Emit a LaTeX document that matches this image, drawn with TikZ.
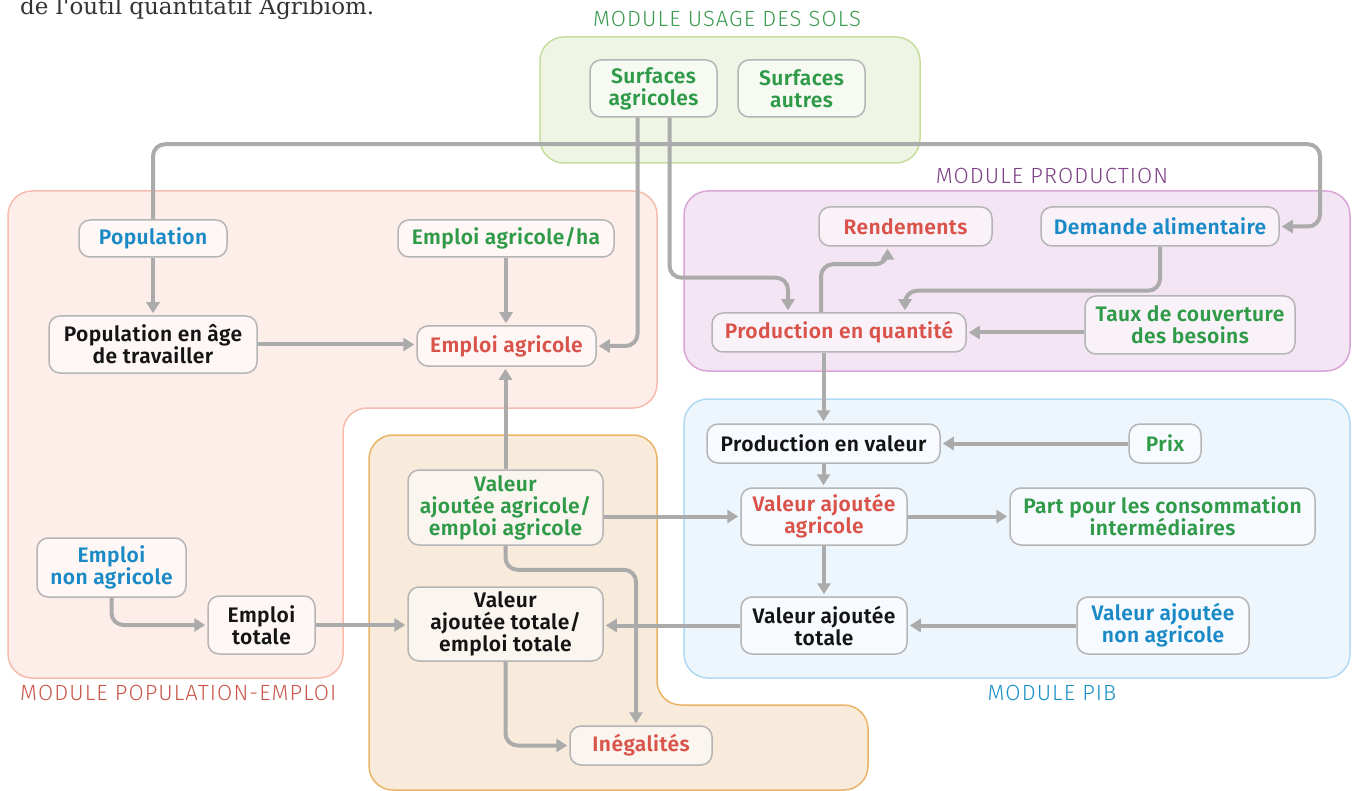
\documentclass[tikz,border=0pt]{standalone}
\usepackage{fontspec}
\setmainfont{Fira Sans}[BoldFont={Fira Sans SemiBold}, LetterSpace=2]
\newfontfamily\lightfont{Fira Sans Light}[LetterSpace=5]
\newfontfamily\seriffont{DejaVu Serif}
\usetikzlibrary{arrows.meta,calc}
\definecolor{tgreen}{HTML}{2F9A48}
\definecolor{tred}{HTML}{D9534A}
\definecolor{tblue}{HTML}{1A8AC6}
\definecolor{tblack}{HTML}{141414}
\definecolor{linegray}{HTML}{ABABAB}
\definecolor{boxgray}{HTML}{B5B5B5}
\definecolor{textdark}{HTML}{333333}
\definecolor{gfill}{HTML}{EEF5E5}\definecolor{gdraw}{HTML}{C5DE9C}
\definecolor{sfill}{HTML}{FDEEEA}\definecolor{sdraw}{HTML}{F6BCAE}
\definecolor{pfill}{HTML}{F3E5F3}\definecolor{pdraw}{HTML}{D9A5D6}
\definecolor{bfill}{HTML}{EEF6FD}\definecolor{bdraw}{HTML}{B0DAF3}
\definecolor{ofill}{HTML}{F8EBDC}\definecolor{odraw}{HTML}{EAB466}
\definecolor{titgreen}{HTML}{3A9A50}
\definecolor{titred}{HTML}{C8574A}
\definecolor{titpurple}{HTML}{7D3F86}
\definecolor{titblue}{HTML}{1B8FC4}
\tikzset{
  box/.style={draw=boxgray, line width=1.5pt, rounded corners=11pt, fill=white,
    fill opacity=0.55, text opacity=1, align=center, inner sep=0pt,
    font=\bfseries\fontsize{21}{22}\selectfont},
  conn/.style={draw=linegray, line width=4pt, rounded corners=12pt,
    -{Triangle[length=11pt,width=13pt]}, shorten >=2pt},
  modtitle/.style={font=\lightfont\fontsize{22}{24}\selectfont, inner sep=0pt},
  module/.style={line width=1.5pt, rounded corners=24pt}
}
\begin{document}
\begin{tikzpicture}[x=1pt,y=-1pt]
\useasboundingbox (0,0) rectangle (1354,791);
% caption fragment
\node[anchor=base west, font=\seriffont\fontsize{23}{26}\selectfont, text=textdark, inner sep=0pt] (cap) at (20,15) {de l'outil quantitatif Agribiom.};
% modules
\draw[module, fill=sfill, draw=sdraw] (8,191) -- (657,191) -- (657,408) -- (343,408) -- (343,678) -- (8,678) -- cycle;
\draw[module, fill=ofill, draw=odraw] (369,435) -- (657,435) -- (657,705) -- (868,705) -- (868,790) -- (369,790) -- cycle;
\draw[module, fill=gfill, draw=gdraw] (540,37) rectangle (920,163);
\draw[module, fill=pfill, draw=pdraw] (684,191) rectangle (1350,371);
\draw[module, fill=bfill, draw=bdraw] (684,399) rectangle (1350,678);
\node[modtitle, text=titgreen] (t1) at (727,19) {MODULE USAGE DES SOLS};
\node[modtitle, text=titpurple] (t2) at (1052,176) {MODULE PRODUCTION};
\node[modtitle, text=titred, anchor=west] (t3) at (20,693) {MODULE POPULATION-EMPLOI};
\node[modtitle, text=titblue] (t4) at (1052,693) {MODULE PIB};
% nodes
\node[box, text=tgreen, minimum width=127, minimum height=57] (sagri) at (653.5,88.5) {Surfaces\\agricoles};
\node[box, text=tgreen, minimum width=127, minimum height=57] (saut) at (801.5,88.5) {Surfaces\\autres};
\node[box, text=tblue, minimum width=148, minimum height=37] (pop) at (153,238.5) {Population};
\node[box, text=tgreen, minimum width=216, minimum height=37] (eagha) at (506,238.5) {Emploi agricole/ha};
\node[box, text=tblack, minimum width=208, minimum height=57] (popage) at (153,344.5) {Population en âge\\de travailler};
\node[box, text=tred, minimum width=179, minimum height=40] (eagri) at (506.5,346) {Emploi agricole};
\node[box, text=tblue, minimum width=149, minimum height=59] (enonag) at (111.5,567.5) {Emploi\\non agricole};
\node[box, text=tblack, minimum width=107, minimum height=58] (etot) at (261.5,625) {Emploi\\totale};
\node[box, text=tgreen, minimum width=195, minimum height=75] (vaaea) at (505.5,507.5) {Valeur\\ajoutée agricole/\\emploi agricole};
\node[box, text=tblack, minimum width=195, minimum height=74] (vatet) at (505.5,624) {Valeur\\ajoutée totale/\\emploi totale};
\node[box, text=tred, minimum width=142, minimum height=39] (ineg) at (641,745.5) {Inégalités};
\node[box, text=tred, minimum width=173, minimum height=39] (rend) at (905.5,226.5) {Rendements};
\node[box, text=tblue, minimum width=238, minimum height=39] (dem) at (1160,226.5) {Demande alimentaire};
\node[box, text=tred, minimum width=254, minimum height=39] (prodq) at (839,332.5) {Production en quantité};
\node[box, text=tgreen, minimum width=210, minimum height=58] (taux) at (1190,325) {Taux de couverture\\des besoins};
\node[box, text=tblack, minimum width=233, minimum height=39] (pval) at (823.5,443.5) {Production en valeur};
\node[box, text=tgreen, minimum width=72, minimum height=39] (prix) at (1165,443.5) {Prix};
\node[box, text=tred, minimum width=166, minimum height=57] (vaa) at (824,516.5) {Valeur ajoutée\\agricole};
\node[box, text=tgreen, minimum width=305, minimum height=57] (part) at (1162.5,516.5) {Part pour les consommation\\intermédiaires};
\node[box, text=tblack, minimum width=166, minimum height=57] (vat) at (824,625.5) {Valeur ajoutée\\totale};
\node[box, text=tblue, minimum width=172, minimum height=57] (vana) at (1163,625.5) {Valeur ajoutée\\non agricole};
\coordinate (loopR) at (1320,0);
% connectors
\draw[conn] (pop.north) -- ++(0,-75) -| (dem.east -| loopR) -- (dem.east);
\draw[conn] ([xshift=-16pt]sagri.south) |- (eagri.east);
\draw[conn] ([xshift=16pt]sagri.south) -- ++(0,160) -| ([xshift=-51pt]prodq.north);
\draw[conn] (pop.south) -- (popage.north);
\draw[conn] (eagha.south) -- (eagha.south |- eagri.north);
\draw[conn] (popage.east) -- (popage.east -| eagri.west);
\draw[conn] (vaaea.north) -- (vaaea.north |- eagri.south);
\draw[conn] (enonag.south) |- (etot.west);
\draw[conn] (etot.east) -- (etot.east -| vatet.west);
\draw[conn] (vaaea.east |- vaa.west) -- (vaa.west);
\draw[conn] (vaaea.south) -- ++(0,24) -| ([xshift=-5pt]ineg.north);
\draw[conn] (vatet.south) |- (ineg.west);
\draw[conn] (vat.west) -- (vat.west -| vatet.east);
\draw[conn] ([xshift=-18pt]prodq.north) -- ++(0,-48) -| ([xshift=-18pt]rend.south);
\draw[conn] (dem.south) -- ++(0,44) -| ([xshift=66pt]prodq.north);
\draw[conn] (taux.west |- prodq.east) -- (prodq.east);
\draw[conn] (prodq.south -| pval.north) -- (pval.north);
\draw[conn] (pval.south) -- (pval.south |- vaa.north);
\draw[conn] (prix.west) -- (pval.east);
\draw[conn] (vaa.east) -- (part.west);
\draw[conn] (vaa.south) -- (vat.north);
\draw[conn] (vana.west) -- (vat.east);
\end{tikzpicture}
\end{document}
